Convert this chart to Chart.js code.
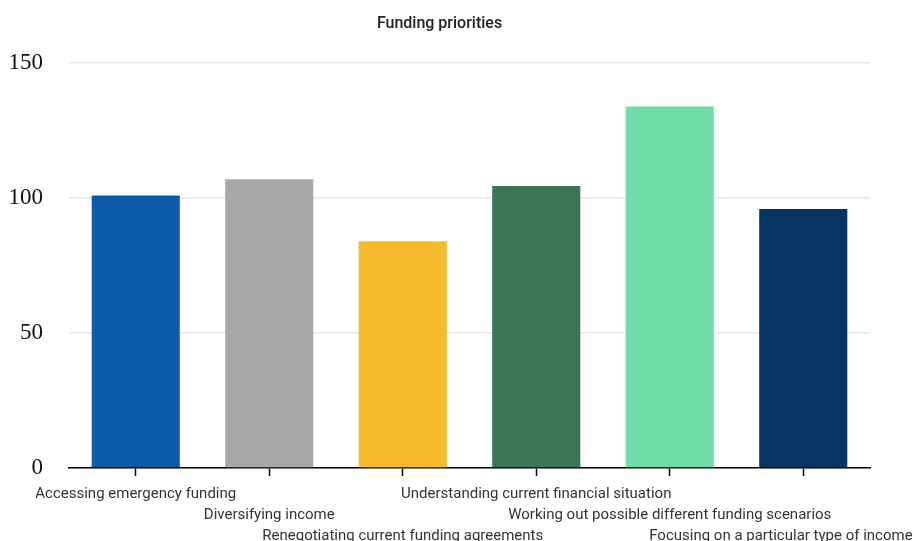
<!DOCTYPE html>
<html>
<head>
<meta charset="utf-8">
<title>Funding priorities</title>
<script src="https://cdn.jsdelivr.net/npm/chart.js@4/dist/chart.umd.min.js"></script>
<style>
    html, body { margin: 0; padding: 0; background: #fff; }
    #wrap { width: 914px; height: 541px; }
</style>
</head>
<body>
<div id="wrap"><canvas id="fundingChart"></canvas></div>
<script>
// chart data
const categories = [
    'Accessing emergency funding',
    'Diversifying income',
    'Renegotiating current funding agreements',
    'Understanding current financial situation',
    'Working out possible different funding scenarios',
    'Focusing on a particular type of income'
];
const responses = [101, 107, 84, 104.5, 134, 96];
const barColors = ['#0b5dab', '#a8a8a8', '#f6bb2d', '#3a7558', '#72dbaa', '#063463'];
const yTicks = [0, 50, 100, 150];

const ctx = document.getElementById('fundingChart').getContext('2d');

new Chart(ctx, {
    type: 'bar',
    data: {
        labels: categories,
        datasets: [{
            label: 'Funding priorities',
            data: responses,
            backgroundColor: barColors,
            borderWidth: 0,
            barPercentage: 0.66,
            categoryPercentage: 1
        }]
    },
    options: {
        responsive: true,
        maintainAspectRatio: false,
        animation: false,
        layout: {
            padding: { left: 9, right: 44, top: 0, bottom: 0 }
        },
        plugins: {
            legend: { display: false },
            tooltip: { enabled: false },
            title: {
                display: true,
                text: 'Funding priorities',
                color: '#222',
                font: { family: 'Roboto', size: 16, weight: '500', lineHeight: 1.2 },
                padding: { top: 14, bottom: 30 }
            }
        },
        scales: {
            x: {
                offset: true,
                grid: {
                    offset: false,
                    drawOnChartArea: false,
                    drawTicks: true,
                    tickLength: 8,
                    tickColor: '#000',
                    tickWidth: 1.5
                },
                border: { color: '#000', width: 1.5 },
                ticks: {
                    autoSkip: false,
                    maxRotation: 0,
                    minRotation: 0,
                    padding: 8,
                    color: '#333',
                    font: { family: 'Roboto', size: 15, lineHeight: 1.4 },
                    // stagger the long labels over three rows
                    callback: function (value, index) {
                        const lines = [];
                        for (let i = 0; i < index % 3; i++) lines.push('');
                        let text = categories[index];
                        if (index === categories.length - 1) text += '\u00a0'.repeat(12);
                        lines.push(text);
                        return lines;
                    }
                },
                afterFit: function (axis) {
                    axis.paddingLeft = 0;
                    axis.paddingRight = 0;
                    axis.height = 73;
                }
            },
            y: {
                min: 0,
                max: 150,
                afterBuildTicks: function (axis) {
                    axis.ticks = yTicks.map(v => ({ value: v }));
                },
                afterFit: function (axis) {
                    axis.width = 60;
                },
                grid: {
                    color: '#e6e6e6',
                    lineWidth: 1.5,
                    drawTicks: false
                },
                border: { display: false },
                ticks: {
                    padding: 26,
                    color: '#111',
                    font: { family: 'Liberation Serif', size: 23 }
                }
            }
        }
    }
});
</script>
</body>
</html>
